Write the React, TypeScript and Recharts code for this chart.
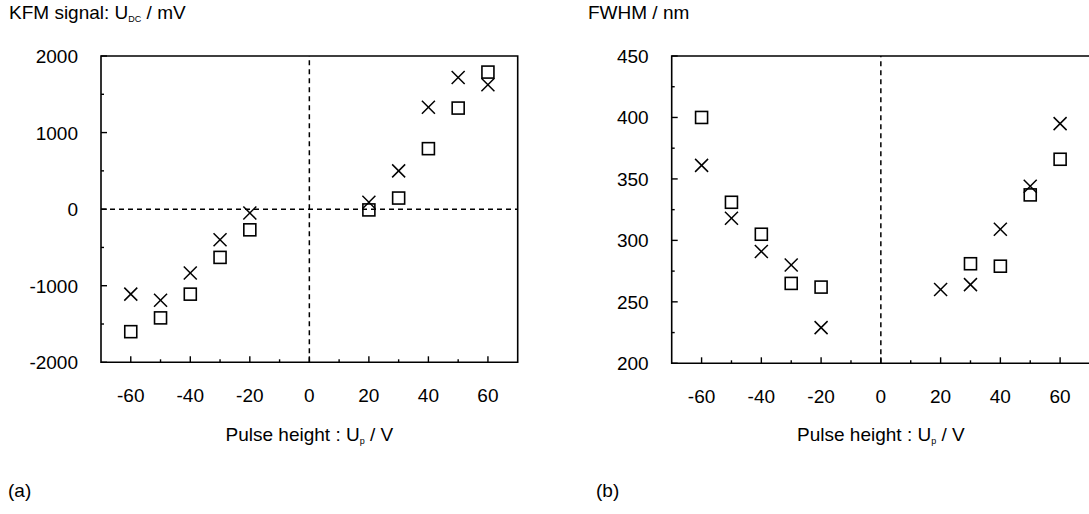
import React from 'react';
import { ScatterChart, Scatter, XAxis, YAxis, ReferenceLine, ReferenceArea } from 'recharts';

// ---- data ----
const kfmPulse = [-60, -50, -40, -30, -20, 20, 30, 40, 50, 60];
const kfmSquare = [-1600, -1420, -1110, -630, -270, -10, 145, 790, 1320, 1790];
const kfmCross = [-1110, -1190, -835, -400, -50, 90, 500, 1330, 1720, 1625];

const fwhmSquarePulse = [-60, -50, -40, -30, -20, 30, 40, 50, 60];
const fwhmSquare = [400, 331, 305, 265, 262, 281, 279, 337, 366];
const fwhmCrossPulse = [-60, -50, -40, -30, -20, 20, 30, 40, 50, 60];
const fwhmCross = [361, 318, 291, 280, 229, 260, 264, 309, 344, 395];

const xTicks = [-60, -50, -40, -30, -20, -10, 0, 10, 20, 30, 40, 50, 60];
const kfmYTicks = [-2000, -1500, -1000, -500, 0, 500, 1000, 1500, 2000];
const fwhmYTicks = [200, 225, 250, 275, 300, 325, 350, 375, 400, 425, 450];

const FONT = '"Liberation Sans", Arial, Helvetica, sans-serif';
const FS = 19;

const toPts = (xs: number[], ys: number[]) => xs.map((x, i) => ({ x, y: ys[i] }));

const SquareShape = (p: any) => {
  const s = 12;
  return <rect x={p.cx - s / 2} y={p.cy - s / 2} width={s} height={s} fill="none" stroke="#000" strokeWidth={1.6} />;
};
const CrossShape = (p: any) => {
  const h = 6.5;
  return (
    <g stroke="#000" strokeWidth={1.5}>
      <line x1={p.cx - h} y1={p.cy - h} x2={p.cx + h} y2={p.cy + h} />
      <line x1={p.cx - h} y1={p.cy + h} x2={p.cx + h} y2={p.cy - h} />
    </g>
  );
};

const XTick = (p: any) => {
  const v = p.payload.value;
  const major = v % 20 === 0;
  return (
    <g>
      <line x1={p.x} x2={p.x} y1={p.y} y2={p.y - (major ? 6 : 3)} stroke="#000" strokeWidth={1.4} />
      {major && (
        <text x={p.x} y={p.y + 40} textAnchor="middle" fontFamily={FONT} fontSize={FS} fill="#000">
          {v}
        </text>
      )}
    </g>
  );
};

const makeYTick = (labelEvery: number) => (p: any) => {
  const v = p.payload.value;
  const major = v % labelEvery === 0;
  return (
    <g>
      <line x1={p.x} x2={p.x + (major ? 6 : 3)} y1={p.y} y2={p.y} stroke="#000" strokeWidth={1.4} />
      {major && (
        <text x={p.x - 23} y={p.y + 7} textAnchor="end" fontFamily={FONT} fontSize={FS} fill="#000">
          {v}
        </text>
      )}
    </g>
  );
};

const KfmYTick = makeYTick(1000);
const FwhmYTick = makeYTick(50);

export default function App() {
  return (
    <div style={{ position: 'absolute', left: 0, top: 0, width: 1089, height: 514, overflow: 'hidden', background: '#fff' }}>
      <div style={{ position: 'absolute', left: 0, top: 0 }}>
        <ScatterChart width={560} height={460} margin={{ top: 56, right: 42.3, left: 0, bottom: 37.7 }}>
          <XAxis type="number" dataKey="x" domain={[-70, 70]} ticks={xTicks} interval={0} tickSize={0} tickMargin={0} axisLine={false} tick={XTick} height={60} allowDataOverflow />
          <YAxis type="number" dataKey="y" domain={[-2000, 2000]} ticks={kfmYTicks} interval={0} tickSize={0} tickMargin={0} axisLine={false} tick={KfmYTick} width={101} allowDataOverflow />
          <ReferenceArea x1={-70} x2={70} y1={-2000} y2={2000} fill="none" stroke="#000" strokeWidth={1.6} ifOverflow="visible" />
          <ReferenceLine x={0} stroke="#000" strokeWidth={1.5} strokeDasharray="5 4" />
          <ReferenceLine y={0} stroke="#000" strokeWidth={1.5} strokeDasharray="5 4" />
          <Scatter data={toPts(kfmPulse, kfmSquare)} shape={SquareShape} isAnimationActive={false} />
          <Scatter data={toPts(kfmPulse, kfmCross)} shape={CrossShape} isAnimationActive={false} />
        </ScatterChart>
      </div>
      <div style={{ position: 'absolute', left: 560, top: 0 }}>
        <ScatterChart width={540} height={460} margin={{ top: 56, right: 10, left: 0, bottom: 36.7 }}>
          <XAxis type="number" dataKey="x" domain={[-70, 70]} ticks={xTicks} interval={0} tickSize={0} tickMargin={0} axisLine={false} tick={XTick} height={60} allowDataOverflow />
          <YAxis type="number" dataKey="y" domain={[200, 450]} ticks={fwhmYTicks} interval={0} tickSize={0} tickMargin={0} axisLine={false} tick={FwhmYTick} width={111.7} allowDataOverflow />
          <ReferenceArea x1={-70} x2={70} y1={200} y2={450} fill="none" stroke="#000" strokeWidth={1.6} ifOverflow="visible" />
          <ReferenceLine x={0} stroke="#000" strokeWidth={1.5} strokeDasharray="5 4" />
          <Scatter data={toPts(fwhmSquarePulse, fwhmSquare)} shape={SquareShape} isAnimationActive={false} />
          <Scatter data={toPts(fwhmCrossPulse, fwhmCross)} shape={CrossShape} isAnimationActive={false} />
        </ScatterChart>
      </div>
      <svg width={1089} height={514} style={{ position: 'absolute', left: 0, top: 0, pointerEvents: 'none' }} fontFamily={FONT} fill="#000">
        <text x={9} y={18.5} fontSize={FS}>
          KFM signal: U<tspan fontSize={9} dy={3}>DC</tspan><tspan dy={-3}> / mV</tspan>
        </text>
        <text x={588} y={18.5} fontSize={FS}>FWHM / nm</text>
        <text x={309.4} y={441} fontSize={FS} textAnchor="middle">
          Pulse height : U<tspan fontSize={9} dy={3}>p</tspan><tspan dy={-3}> / V</tspan>
        </text>
        <text x={880.9} y={441} fontSize={FS} textAnchor="middle">
          Pulse height : U<tspan fontSize={9} dy={3}>p</tspan><tspan dy={-3}> / V</tspan>
        </text>
        <text x={8} y={497} fontSize={FS}>(a)</text>
        <text x={596} y={497} fontSize={FS}>(b)</text>
      </svg>
    </div>
  );
}
